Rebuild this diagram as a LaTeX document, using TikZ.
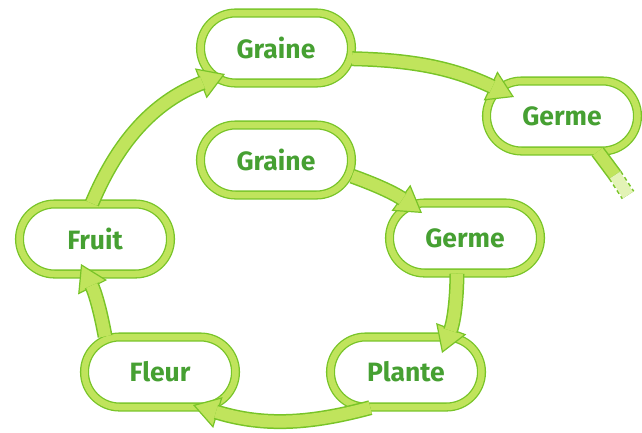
\documentclass[tikz,border=0pt]{standalone}
\usepackage{fontspec}
\setmainfont{Fira Sans}
\usetikzlibrary{arrows.meta,calc}
\definecolor{vertclair}{RGB}{192,228,92}
\definecolor{vertfonce}{RGB}{120,196,40}
\definecolor{verttexte}{RGB}{70,160,50}
\tikzset{
	etape/.style={draw=vertfonce,line width=1.3pt,double=vertclair,double distance=6.5pt,
		fill=white,rounded corners=35pt,minimum width=151pt,minimum height=70pt,
		text=verttexte,font=\fontsize{26.5}{30}\selectfont\bfseries},
	tete/.style={draw=vertfonce,line width=1.2pt,-{Triangle[length=26pt,width=32pt,fill=vertclair]}},
	corpsext/.style={draw=vertfonce,line width=15pt,shorten >=24pt},
	corpsint/.style={draw=vertclair,line width=12pt,shorten >=24pt},
}
\newcommand{\fleche}[1]{
	\draw[tete] #1;
	\draw[corpsext] #1;
	\draw[corpsint] #1;}

\begin{document}
\begin{tikzpicture}[x=1pt,y=1pt]
	\useasboundingbox (0,0) rectangle (642,-432);
%	les etapes
	\node[etape] (graineA) at (276,-48) {Graine};
	\node[etape] (germeA) at (562,-116) {Germe};
	\node[etape] (graineB) at (276,-160) {Graine};
	\node[etape] (germeB) at (465,-238) {Germe};
	\node[etape] (fruit) at (95,-239) {Fruit};
	\node[etape] (fleur) at (160,-372) {Fleur};
	\node[etape] (plante) at (406,-372) {Plante};
%	le bout qui s'efface
	\coordinate (stubA) at (615,-175);
	\coordinate (stubB) at (628,-195);
	\draw[corpsext,shorten >=0pt] (germeA.-45) -- (stubA);
	\draw[corpsint,shorten >=0pt] (germeA.-45) -- (stubA);
	\draw[vertfonce,line width=15pt,dash pattern=on 4pt off 3pt] (stubA) -- (stubB);
	\draw[vertclair!45,line width=12pt] (stubA) -- (stubB);
%	les fleches
	\fleche{(graineA.-8) to[bend left=12] ($(germeA.center)+(-48,19)$)}
	\fleche{(graineB.-12) to[bend left=8] ($(germeB.center)+(-43,25)$)}
	\fleche{($(germeB.south)+(-8,0)$) to[bend left=10] ($(plante.center)+(36,19)$)}
	\fleche{(plante.-135) to[bend left=16] ($(fleur.center)+(33,-33)$)}
	\fleche{(fleur.147) to[bend right=8] ($(fruit.center)+(-14,-25)$)}
	\fleche{(fruit.95) to[bend left=23] ($(graineA.center)+(-51,-26)$)}
\end{tikzpicture}
\end{document}
